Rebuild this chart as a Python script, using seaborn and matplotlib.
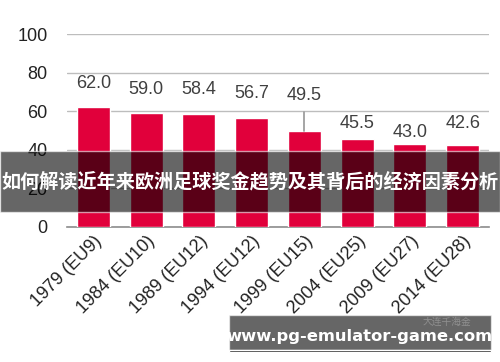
import matplotlib
matplotlib.use("Agg")
import matplotlib.pyplot as plt
import seaborn as sns
import pandas as pd
from matplotlib.patches import Rectangle

categories = ["1979 (EU9)", "1984 (EU10)", "1989 (EU12)", "1994 (EU12)",
              "1999 (EU15)", "2004 (EU25)", "2009 (EU27)", "2014 (EU28)"]
turnout = [62.0, 59.0, 58.4, 56.7, 49.5, 45.5, 43.0, 42.6]
yticks = [0, 20, 40, 60, 80, 100]

banner_text = "如何解读近年来欧洲足球奖金趋势及其背后的经济因素分析"
site_text = "www.pg-emulator-game.com"
watermark = "大连千海金"

# where the value labels sit (data units), as drawn in the original
label_y = [74.6, 71.0, 71.0, 69.4, 67.9, 53.4, 49.2, 53.4]

sns.set_style("white")
plt.rcParams["font.family"] = ["Liberation Sans", "DejaVu Sans"]

df = pd.DataFrame({"cat": categories, "val": turnout})

fig = plt.figure(figsize=(5, 3.62), dpi=100)
ax = fig.add_axes([0.134, 0.373, 0.844, 0.533])

sns.barplot(data=df, x="cat", y="val", color="#E1003B", width=0.63,
            saturation=1, ax=ax, zorder=3)

ax.set_ylim(0, 100)
ax.set_xlim(-0.5, len(categories) - 0.5)
ax.set_yticks(yticks)
ax.yaxis.grid(True, color="#BDBDBD", lw=1.0, zorder=0)
ax.set_axisbelow(True)
for s in ["top", "right", "left"]:
    ax.spines[s].set_visible(False)
ax.spines["bottom"].set_color("#8C8C8C")
ax.spines["bottom"].set_linewidth(1.2)
ax.set_xlabel("")
ax.set_ylabel("")
ax.tick_params(axis="y", length=0, pad=14, labelsize=13, labelcolor="#222222")
ax.tick_params(axis="x", length=0, pad=4, labelsize=13, labelcolor="#222222")
plt.setp(ax.get_xticklabels(), rotation=45, ha="right", rotation_mode="anchor")

for i, (v, ly) in enumerate(zip(turnout, label_y)):
    ax.text(i, ly, f"{v:.1f}", ha="center", va="center", fontsize=13,
            color="#404040", zorder=4)

# leader line for the 1999 label
ax.plot([4, 4], [59.5, turnout[4]], color="#9E9E9E", lw=1.3, zorder=4)

# dark banner with the title
fig.patches.append(Rectangle((0, 1 - 212 / 362), 1, 61 / 362,
                             transform=fig.transFigure, facecolor="black",
                             alpha=0.6, zorder=10))
fig.text(0.5, 1 - 182 / 362, banner_text, ha="center", va="center",
         color="white", fontsize=13.75, fontweight="bold",
         family=["Noto Sans CJK SC", "DejaVu Sans"], zorder=11)

# site box at bottom right
fig.patches.append(Rectangle((229 / 500, 1 - 350 / 362), 262 / 500, 35 / 362,
                             transform=fig.transFigure, facecolor="black",
                             alpha=0.6, zorder=10))
fig.patches.append(Rectangle((229 / 500, 1 - 352 / 362), 262 / 500, 2.5 / 362,
                             transform=fig.transFigure, facecolor="black",
                             zorder=10))
fig.text(359 / 500, 1 - 337 / 362, site_text, ha="center", va="center",
         color="white", fontsize=11.8, fontweight="bold",
         family=["DejaVu Sans"], zorder=11)
fig.text(447 / 500, 1 - 322 / 362, watermark, ha="center", va="center",
         color="#9A9A9A", fontsize=7, alpha=0.8,
         family=["Noto Sans CJK SC", "DejaVu Sans"], zorder=11)

fig.savefig("out.png", dpi=100)
